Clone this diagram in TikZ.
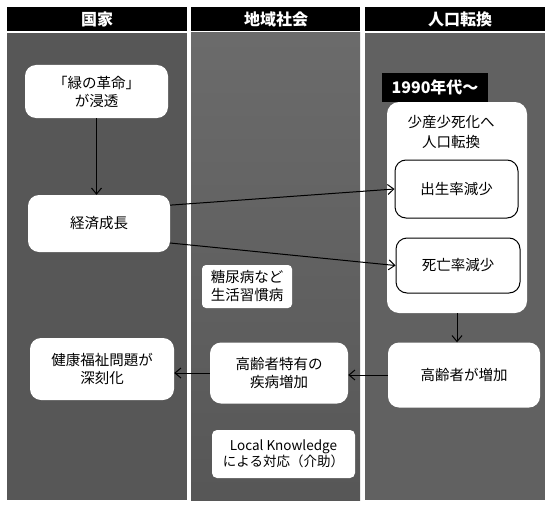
\documentclass[tikz,border=0pt]{standalone}
\usepackage{fontspec}
\newfontfamily\jp{Noto Sans CJK JP}
\usetikzlibrary{arrows.meta,calc}
\begin{document}
\begin{tikzpicture}[x=1pt,y=-1pt,
  box/.style={fill=white, rounded corners=11pt, align=center, inner sep=0pt,
    font=\jp\fontsize{14.5}{18}\selectfont},
  bbox/.style={box, draw=black, line width=1pt},
  hdr/.style={text=white, inner sep=0pt, font=\jp\bfseries\fontsize{16}{18}\selectfont},
  arr/.style={draw=black, line width=1pt, -{Straight Barb[length=6pt,width=10pt]}},
  colbg/.style={fill=black!66},
  hdrbar/.style={fill=black},
]
\useasboundingbox (0,0) rectangle (545,508);
% column backgrounds
\fill[colbg] (7,33) rectangle (187,500);
\shade[top color=black!58, middle color=black!25, bottom color=black!66] (191,33) rectangle (360,500);
\fill[black!62] (365,33) rectangle (545,500);
% header bars
\fill[hdrbar] (7,7) rectangle (187,31);
\fill[hdrbar] (191,7) rectangle (360,31);
\fill[hdrbar] (365,7) rectangle (545,31);
\node[hdr] (h1) at (97,19) {国家};
\node[hdr] (h2) at (276,19) {地域社会};
\node[hdr] (h3) at (460,19) {人口転換};
% left column
\node[box, minimum width=143pt, minimum height=53pt] (g) at (96.5,91.5) {「緑の革命」\\が浸透};
\node[box, minimum width=142pt, minimum height=57pt] (e) at (99,223.5) {経済成長};
\node[box, minimum width=144pt, minimum height=62pt] (k) at (102,369) {健康福祉問題が\\深刻化};
% middle column
\node[box, rounded corners=4pt, minimum width=90pt, minimum height=43pt] (t) at (247,286.5) {糖尿病など\\生活習慣病};
\node[box, minimum width=138pt, minimum height=61pt] (s) at (279,373) {高齢者特有の\\疾病増加};
\node[box, rounded corners=5pt, minimum width=143pt, minimum height=48pt, font=\jp\fontsize{13.5}{16}\selectfont] (l) at (283.5,454) {Local Knowledge\\による対応（介助）};
% right column
\node[fill=white, rounded corners=12pt, minimum width=140pt, minimum height=211pt, inner sep=0pt] (B) at (457,207.5) {};
\node[fill=black, text=white, inner sep=0pt, minimum width=106pt, minimum height=29pt,
  font=\jp\bfseries\fontsize{16}{18}\selectfont] (y) at (435,87.5) {1990年代〜};
\node[align=center, inner sep=0pt, font=\jp\fontsize{14.5}{20}\selectfont] (bt) at (451,132) {少産少死化へ\\人口転換};
\node[bbox, minimum width=123pt, minimum height=58pt] (b) at (456.5,189) {出生率減少};
\node[bbox, minimum width=124pt, minimum height=55pt] (d) at (458,265.5) {死亡率減少};
\node[box, minimum width=152pt, minimum height=65pt] (o) at (464,375) {高齢者が増加};
% connectors
\draw[arr] (g.south) -- (g.south |- e.north);
\draw[arr] ($(e.north east)!0.18!(e.south east)$) -- (b.west);
\draw[arr] ($(e.north east)!0.84!(e.south east)$) -- (d.west);
\draw[arr] (B.south) -- (B.south |- o.north);
\draw[arr] (o.west) -- (o.west -| s.east);
\draw[arr] (s.west) -- (s.west -| k.east);
\end{tikzpicture}
\end{document}
